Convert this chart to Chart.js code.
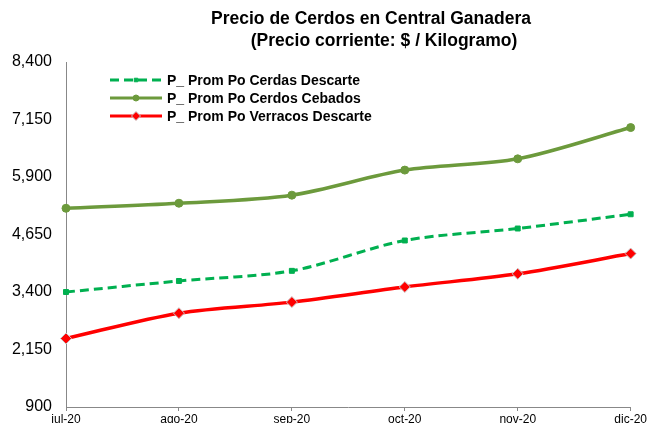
<!DOCTYPE html>
<html>
<head>
<meta charset="utf-8">
<script src="https://cdn.jsdelivr.net/npm/chart.js@4/dist/chart.umd.min.js"></script>
<style>
  html, body { margin: 0; padding: 0; background: #fff; }
  #wrap { width: 648px; height: 423px; position: relative; }
</style>
</head>
<body>
<div id="wrap"><canvas id="preciosChart"></canvas></div>
<script>
// months on the x axis
const meses = ["jul-20", "ago-20", "sep-20", "oct-20", "nov-20", "dic-20"];

// series ($ / kg)
const cerdasDescarte = [3400, 3640, 3860, 4520, 4780, 5090];
const cerdosCebados = [5220, 5330, 5505, 6050, 6295, 6975];
const verracosDescarte = [2390, 2940, 3180, 3510, 3795, 4235];

// y axis ticks
const yTicks = [900, 2150, 3400, 4650, 5900, 7150, 8400];

const titulo = ["Precio de Cerdos en Central Ganadera", "(Precio corriente: $ / Kilogramo)"];

const FONT = "Arial, 'Liberation Sans', sans-serif";

// Title + legend are drawn by hand, the Excel layout doesn't fit chart.js boxes
const titleAndLegendPlugin = {
    id: "titleAndLegend",
    afterDraw(chart) {
        const ctx = chart.ctx;
        ctx.save();
        ctx.fillStyle = "#000";
        ctx.font = "bold 17.5px " + FONT;
        ctx.textAlign = "center";
        ctx.textBaseline = "alphabetic";
        ctx.fillText(titulo[0], 371, 24);
        ctx.fillText(titulo[1], 384, 46);

        // legend rows
        const rows = chart.data.datasets;
        rows.forEach((ds, i) => {
            const y = 80 + i * 18;
            ctx.strokeStyle = ds.borderColor;
            ctx.lineWidth = 3;
            ctx.setLineDash(ds.borderDash || []);
            ctx.beginPath();
            ctx.moveTo(110, y);
            ctx.lineTo(162, y);
            ctx.stroke();
            ctx.setLineDash([]);
            // marker in the middle
            ctx.fillStyle = ds.pointBackgroundColor;
            ctx.strokeStyle = ds.pointBorderColor;
            ctx.lineWidth = ds.pointBorderWidth;
            Chart.helpers.drawPoint(ctx, {
                pointStyle: ds.pointStyle,
                radius: ds.pointRadius - 1,
                rotation: 0,
                borderWidth: ds.pointBorderWidth
            }, 136, y);
            ctx.fillStyle = "#000";
            ctx.font = "bold 14px " + FONT;
            ctx.textAlign = "left";
            ctx.textBaseline = "middle";
            ctx.fillText(ds.label, 167, y + 1);
        });
        ctx.restore();
    }
};

const ctxLine = document.getElementById("preciosChart").getContext("2d");
new Chart(ctxLine, {
    type: "line",
    data: {
        labels: meses,
        datasets: [
            {
                label: "P_ Prom Po Cerdas Descarte",
                data: cerdasDescarte,
                borderColor: "#00B050",
                backgroundColor: "#00B050",
                pointBackgroundColor: "#00B050",
                pointBorderColor: "#00B050",
                borderDash: [9, 5],
                borderWidth: 3,
                pointStyle: "rect",
                pointRadius: 3.5,
                pointBorderWidth: 1,
                tension: 0.3
            },
            {
                label: "P_ Prom Po Cerdos Cebados",
                data: cerdosCebados,
                borderColor: "#6C9A3C",
                backgroundColor: "#6C9A3C",
                pointBackgroundColor: "#6C9A3C",
                pointBorderColor: "#6C9A3C",
                borderWidth: 3.5,
                pointStyle: "circle",
                pointRadius: 4,
                pointBorderWidth: 1,
                tension: 0.3
            },
            {
                label: "P_ Prom Po Verracos Descarte",
                data: verracosDescarte,
                borderColor: "#FF0000",
                backgroundColor: "#FF0000",
                pointBackgroundColor: "#FF0000",
                pointBorderColor: "#C8C8C8",
                borderWidth: 3.5,
                pointStyle: "rectRot",
                pointRadius: 5.5,
                pointBorderWidth: 1,
                tension: 0.3
            }
        ]
    },
    options: {
        responsive: true,
        maintainAspectRatio: false,
        animation: false,
        layout: { padding: { top: 62, right: 17, left: 0, bottom: 0 } },
        plugins: {
            legend: { display: false },
            title: { display: false },
            tooltip: { enabled: false }
        },
        scales: {
            x: {
                offset: false,
                grid: { drawOnChartArea: false, drawTicks: true, tickLength: 4, color: "#888" },
                border: { color: "#888", width: 1 },
                ticks: { color: "#000", font: { family: FONT, size: 12 }, padding: 1, maxRotation: 0, autoSkip: false },
                afterFit: s => { s.height = 16; }
            },
            y: {
                min: yTicks[0],
                max: yTicks[yTicks.length - 1],
                afterBuildTicks: s => { s.ticks = yTicks.map(v => ({ value: v })); },
                grid: { display: false },
                border: { color: "#888", width: 1 },
                ticks: {
                    color: "#000",
                    font: { family: FONT, size: 16 },
                    padding: 6,
                    callback: v => Number(v).toLocaleString("en-US")
                },
                afterFit: s => { s.width = 66; }
            }
        }
    },
    plugins: [titleAndLegendPlugin]
});
</script>
</body>
</html>
